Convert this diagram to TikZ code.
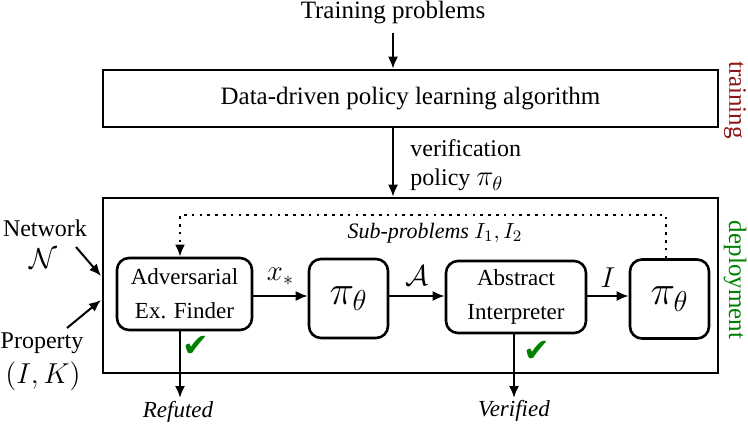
\documentclass[tikz,border=0pt]{standalone}
\usepackage{fontspec}
\setmainfont{Liberation Serif}
\newfontfamily\symfont{DejaVu Sans}
\usetikzlibrary{arrows.meta}
\definecolor{trainred}{RGB}{140,20,20}
\definecolor{deploygreen}{RGB}{0,128,0}
\begin{document}
\begin{tikzpicture}[x=0.5pt,y=-0.5pt,
  txt/.style={font=\fontsize{12}{14}\selectfont, inner sep=0},
  bigtxt/.style={font=\fontsize{12.5}{14}\selectfont, inner sep=0},
  bigbox/.style={draw, line width=1.3pt, inner sep=0},
  rbox/.style={draw, line width=1.3pt, rounded corners=6pt, align=center, inner sep=0, font=\fontsize{11.5}{17}\selectfont},
  pibox/.style={rbox, minimum width=39.5pt, minimum height=39.5pt, font=\fontsize{20}{24}\selectfont},
  arr/.style={-{Latex[length=6pt,width=5pt]}, line width=1pt},
  mlab/.style={font=\fontsize{14}{16}\selectfont, inner sep=0},
  chk/.style={font=\symfont\fontsize{16}{18}\selectfont, text=deploygreen, inner sep=0}]
\useasboundingbox (0,0) rectangle (748,427);

% training
\node[bigtxt] (tp) at (393,13) {Training problems};
\node[bigbox, minimum width=307.5pt, minimum height=28.5pt, bigtxt] (train) at (410.5,98.5) {Data-driven policy learning algorithm};
\node[bigtxt, text=trainred, rotate=-90] (trl) at (735,100) {training};
\draw[arr] (tp.south -| 393,0) ++(0,8) coordinate (tpa) -- (tpa |- train.north);

% deployment
\node[bigbox, minimum width=307.5pt, minimum height=87.5pt] (dep) at (410.5,285.5) {};
\node[bigtxt, text=deploygreen, rotate=-90] (dpl) at (735,280) {deployment};
\draw[arr] (train.south -| 393,0) -- (dep.north -| 393,0);
\node[txt, anchor=west] (ver) at (410,148) {verification};
\node[txt, anchor=west] (pol) at (410,180) {policy \fontsize{14}{16}\selectfont$\pi_\theta$};

% inner boxes
\node[rbox, minimum width=67.5pt, minimum height=36pt] (adv) at (184.5,294) {Adversarial\\Ex. Finder};
\node[pibox] (pi1) at (348.5,298.5) {$\pi_\theta$};
\node[rbox, minimum width=70pt, minimum height=36pt] (abs) at (516,297) {Abstract\\Interpreter};
\node[pibox] (pi2) at (669.5,299) {$\pi_\theta$};

\draw[arr] (adv.east |- 0,296) -- node[mlab, above=5pt] (xs) {$x_*$} (pi1.west |- 0,296);
\draw[arr] (pi1.east |- 0,296) -- node[mlab, above=5pt] (am) {$\mathcal{A}$} (abs.west |- 0,296);
\draw[arr] (abs.east |- 0,296) -- node[mlab, above=4pt] (im) {$I$} (pi2.west |- 0,296);

% feedback loop
\coordinate (lpR) at (666,215);
\coordinate (lpL) at (180,215);
\draw[line width=1.3pt, dash pattern=on 1.3pt off 2.6pt, -{Latex[length=6pt,width=5pt]}] (pi2.north -| lpR) -- (lpR) -- (lpL) -- (adv.north -| lpL);
\node[txt, font=\itshape\fontsize{11}{13}\selectfont] (sub) at (435,233) {Sub-problems $I_1, I_2$};

% inputs
\node[txt] (net) at (45,228) {Network};
\node[mlab, font=\fontsize{14}{16}\selectfont] (nn) at (43,259) {$\mathcal{N}$};
\node[txt] (prop) at (42,343) {Property};
\node[mlab, font=\fontsize{15}{17}\selectfont] (ik) at (43,376) {$(I,K)$};
\coordinate (netS) at (76,247);
\coordinate (netE) at (101,276);
\coordinate (propS) at (67,328);
\coordinate (propE) at (101,300);
\draw[arr] (netS) -- (netE);
\draw[arr] (propS) -- (propE);

% outputs
\coordinate (refE) at (180,398);
\coordinate (verE) at (514,398);
\draw[arr] (adv.south -| refE) -- (refE);
\draw[arr] (abs.south -| verE) -- (verE);
\node[txt, font=\itshape\fontsize{11.5}{13}\selectfont] (ref) at (178,412) {Refuted};
\node[txt, font=\itshape\fontsize{11.5}{13}\selectfont] (vfd) at (514,411) {Verified};
\node[chk] (c1) at (196,346) {✔};
\node[chk] (c2) at (537,351) {✔};
\end{tikzpicture}
\end{document}
